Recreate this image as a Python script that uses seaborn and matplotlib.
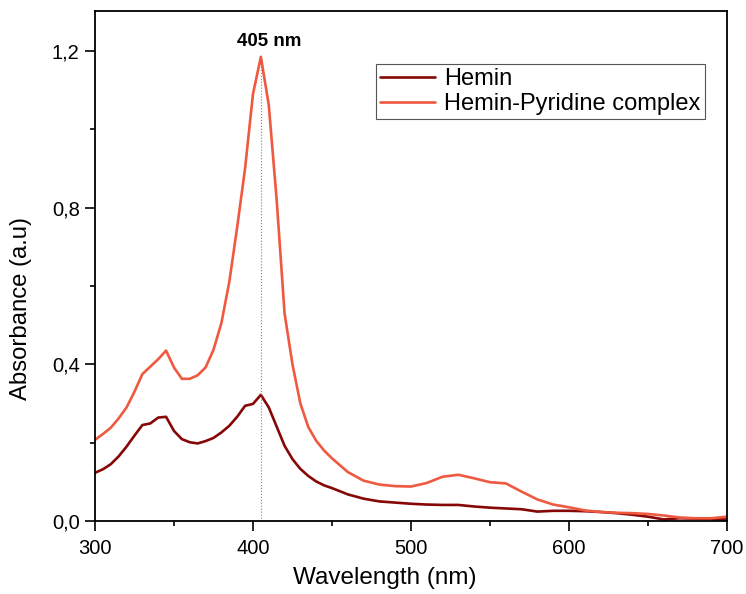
import pandas as pd
import seaborn as sns
import matplotlib.pyplot as plt
from matplotlib.ticker import MultipleLocator, FuncFormatter

# Longueurs d'onde (nm)
wavelength = [300, 305, 310, 315, 320, 325, 330, 335, 340, 345, 350, 355, 360, 365, 370,
              375, 380, 385, 390, 395, 400, 405, 410, 415, 420, 425, 430, 435, 440, 445,
              450, 460, 470, 480, 490, 500, 510, 520, 530, 540, 550, 560, 570, 580, 590,
              600, 610, 620, 630, 640, 650, 660, 670, 680, 690, 700]

hemin = [0.123, 0.132, 0.145, 0.165, 0.190, 0.218, 0.245, 0.249, 0.264, 0.266, 0.230, 0.209,
         0.201, 0.198, 0.204, 0.212, 0.226, 0.243, 0.266, 0.294, 0.299, 0.322, 0.290, 0.241,
         0.192, 0.158, 0.133, 0.115, 0.101, 0.091, 0.084, 0.068, 0.057, 0.050, 0.047, 0.044,
         0.042, 0.041, 0.041, 0.037, 0.034, 0.032, 0.030, 0.024, 0.026, 0.026, 0.025, 0.023,
         0.020, 0.016, 0.011, 0.004, 0.007, 0.006, 0.005, 0.004]

hemin_pyr = [0.207, 0.222, 0.238, 0.262, 0.290, 0.330, 0.375, 0.394, 0.413, 0.435, 0.392,
             0.363, 0.363, 0.372, 0.392, 0.437, 0.505, 0.610, 0.750, 0.900, 1.090, 1.185,
             1.062, 0.820, 0.530, 0.400, 0.300, 0.240, 0.205, 0.180, 0.160, 0.125, 0.103,
             0.093, 0.089, 0.088, 0.097, 0.113, 0.118, 0.109, 0.099, 0.096, 0.075, 0.055,
             0.042, 0.035, 0.027, 0.023, 0.021, 0.020, 0.018, 0.014, 0.009, 0.007, 0.007,
             0.011]

series = ['Hemin', 'Hemin-Pyridine complex']
colors = ['#860707', '#EF5940']
peak_nm = 405

df = pd.concat([
    pd.DataFrame({'Wavelength': wavelength, 'Absorbance': hemin, 'Sample': series[0]}),
    pd.DataFrame({'Wavelength': wavelength, 'Absorbance': hemin_pyr, 'Sample': series[1]}),
])

sns.set_style("white")
plt.rcParams['font.family'] = ['Liberation Sans', 'DejaVu Sans']
for k in ['text.color', 'axes.labelcolor', 'xtick.color', 'ytick.color']:
    plt.rcParams[k] = 'black'

fig = plt.figure(figsize=(7.46, 5.94), dpi=100)
ax = fig.add_axes([0.1273, 0.1229, 0.8472, 0.8586])

sns.lineplot(data=df, x='Wavelength', y='Absorbance', hue='Sample',
             palette=dict(zip(series, colors)), linewidth=1.9, ax=ax)

# ligne pointillee au pic
peak_val = hemin_pyr[wavelength.index(peak_nm)]
ax.plot([peak_nm, peak_nm], [0, peak_val], ls=':', color='grey', lw=0.8)
ax.text(peak_nm + 5, 1.225, '405 nm', ha='center', va='center',
        fontsize=13.5, fontweight='bold')

ax.set_xlim(300, 700)
ax.set_ylim(0, 1.302)
ax.xaxis.set_major_locator(MultipleLocator(100))
ax.xaxis.set_minor_locator(MultipleLocator(50))
ax.yaxis.set_major_locator(MultipleLocator(0.4))
ax.yaxis.set_minor_locator(MultipleLocator(0.2))
ax.yaxis.set_major_formatter(FuncFormatter(lambda v, p: f'{v:.1f}'.replace('.', ',')))
ax.tick_params(which='major', direction='out', length=7, width=1.2, labelsize=14.5,
               bottom=True, left=True, pad=4)
ax.tick_params(axis='x', which='major', pad=6)
ax.tick_params(which='minor', direction='out', length=3.6, width=1.2, bottom=True, left=True)
for s in ax.spines.values():
    s.set_linewidth(1.3)
    s.set_color('black')

ax.set_xlabel('Wavelength (nm)', fontsize=17.5)
ax.set_ylabel('Absorbance (a.u)', fontsize=17.2)
ax.xaxis.set_label_coords(0.459, -0.090)
ax.yaxis.set_label_coords(-0.100, 0.416)

leg = ax.legend(loc='upper left', bbox_to_anchor=(0.445, 0.896), fontsize=17,
                frameon=True, fancybox=False, edgecolor='#555555', framealpha=1,
                handlelength=2.3, handletextpad=0.4, labelspacing=0.12, borderpad=0.18,
                borderaxespad=0)
leg.get_frame().set_linewidth(0.8)
for line in leg.get_lines():
    line.set_linewidth(1.9)

fig.savefig('out.png', dpi=100)
